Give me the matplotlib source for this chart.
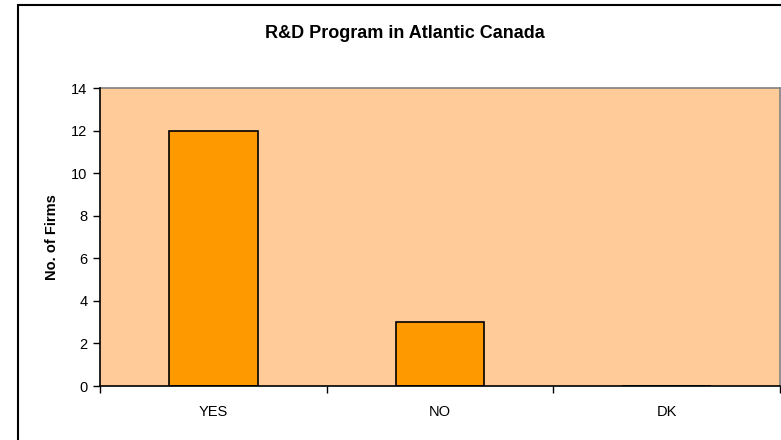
import matplotlib
matplotlib.use("Agg")
import matplotlib.pyplot as plt
from matplotlib.patches import Rectangle

categories = ["YES", "NO", "DK"]
firms = [12, 3, 0]
yticks = [0, 2, 4, 6, 8, 10, 12, 14]

plt.rcParams["font.family"] = ["Liberation Sans", "DejaVu Sans"]

fig = plt.figure(figsize=(7.81, 4.40), dpi=100)
ax = fig.add_axes([100 / 781, 1 - 386 / 440, 680 / 781, 298 / 440])

ax.set_facecolor("#FFCC99")
x = range(len(categories))
ax.bar(x, firms, width=0.39, color="#FF9900", edgecolor="black", linewidth=1.2, zorder=2)

ax.set_xlim(-0.5, len(categories) - 0.5)
ax.set_ylim(0, 14)
ax.set_yticks(yticks)
ax.set_yticklabels([str(v) for v in yticks], fontsize=10.5)
ax.set_xticks([i - 0.5 for i in range(len(categories) + 1)])
ax.set_xticklabels([])
ax.set_xticks(list(x), minor=True)
ax.set_xticklabels(categories, minor=True, fontsize=10.5)
ax.tick_params(axis="x", which="major", direction="out", length=5, width=1)
ax.tick_params(axis="x", which="minor", length=0, pad=14)
ax.tick_params(axis="y", direction="out", length=5, width=1, pad=4)

for s in ["top", "right"]:
    ax.spines[s].set_color("#808080")
    ax.spines[s].set_linewidth(1.2)
for s in ["left", "bottom"]:
    ax.spines[s].set_color("black")
    ax.spines[s].set_linewidth(1.2)
    ax.spines[s].set_zorder(4)

ax.set_ylabel("No. of Firms", fontsize=10.5, fontweight="bold", labelpad=9)
fig.text(405 / 781, 1 - 33 / 440, "R&D Program in Atlantic Canada",
         ha="center", va="center", fontsize=13, fontweight="bold")

# outer chart border (cropped on right/bottom in the original)
fig.patches.append(Rectangle((18 / 781, -0.1), 1.2, 1 - 5 / 440 + 0.1,
                             transform=fig.transFigure, fill=False,
                             edgecolor="black", linewidth=1.5))

plt.savefig("out.png", dpi=100)
